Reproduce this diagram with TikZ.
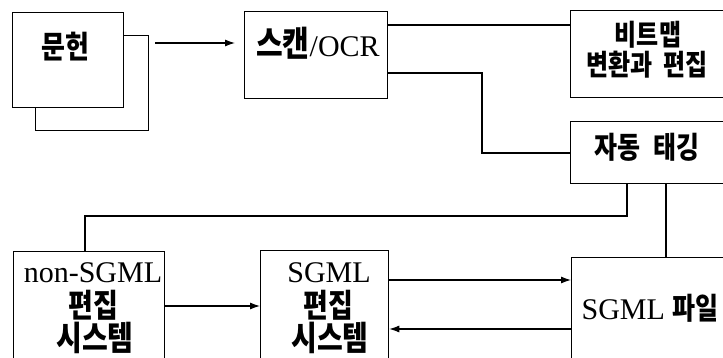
\documentclass[tikz,border=0pt]{standalone}
\usepackage{fontspec}
\usepackage{graphicx}
\setmainfont{Liberation Serif}
\newfontfamily\kr{Noto Sans CJK KR}
\usetikzlibrary{arrows.meta}
\tikzset{
  box/.style={draw, line width=1.3pt, fill=white, inner sep=0pt, rectangle, anchor=north west},
  conn/.style={line width=1.1pt},
  arr/.style={conn, -{Latex[length=10pt,width=7pt]}},
  txt/.style={inner sep=0pt},
  la/.style={font=\fontsize{30}{30}\selectfont, inner sep=0pt},
}
\newcommand{\kor}[2]{\scalebox{1}[1.2]{\kr\bfseries\fontsize{#1}{#1}\selectfont #2}}
\begin{document}
\begin{tikzpicture}[x=1pt,y=-1pt]
\useasboundingbox (0,0) rectangle (723,358);
\clip (0,0) rectangle (723,358);
\fill[white] (0,0) rectangle (723,358);
% boxes
\node[box, minimum width=113pt, minimum height=95pt] (back) at (35,35) {};
\node[box, minimum width=111pt, minimum height=95pt] (munheon) at (12,12) {};
\node[box, minimum width=143pt, minimum height=87pt] (scan) at (244,11) {};
\node[box, minimum width=180pt, minimum height=87pt] (bitmap) at (570,10) {};
\node[box, minimum width=180pt, minimum height=62pt] (autotag) at (570,121) {};
\node[box, minimum width=151pt, minimum height=130pt] (nonsgml) at (13,251) {};
\node[box, minimum width=128pt, minimum height=130pt] (sgmled) at (260,250) {};
\node[box, minimum width=180pt, minimum height=130pt] (sgmlfile) at (571,257) {};
% texts
\node[txt] (t1) at (65,47) {\kor{26}{문헌}};
\node[la] (t2) at (318,43) {\kor{29}{스캔}/OCR};
\node[txt] (t3) at (648,35) {\kor{24}{비트맵}};
\node[txt] (t4) at (647,65) {\kor{24}{변환과\hspace{0.45em}편집}};
\node[txt] (t5) at (647,147) {\kor{25}{자동\hspace{0.5em}태깅}};
\node[la] (t6) at (93,273) {non-SGML};
\node[txt] (t7) at (93,305) {\kor{27}{편집}};
\node[txt] (t8) at (95,338) {\kor{28}{시스템}};
\node[la] (t9) at (329,273) {SGML};
\node[txt] (t10) at (328,305) {\kor{27}{편집}};
\node[txt] (t11) at (330,338) {\kor{28}{시스템}};
\node[la] (t12) at (650,308) {SGML \kor{25}{파일}};
% helper coordinates
\coordinate (a0) at (155,43);
\coordinate (r25) at (400,25);
\coordinate (r73) at (482,73);
\coordinate (r153) at (482,153);
\coordinate (k1) at (627,216);
\coordinate (k2) at (85,216);
\coordinate (k3) at (666,200);
\coordinate (h1) at (0,306);
\coordinate (h2) at (0,280);
\coordinate (h3) at (0,329);
% connectors
\draw[arr, shorten >=9pt] (a0) -- (a0 -| scan.west);
\draw[conn] (scan.east |- r25) -- (r25 -| bitmap.west);
\draw[conn] (scan.east |- r73) -- (r73) -- (r153) -- (r153 -| autotag.west);
\draw[conn] (k1 |- autotag.south) -- (k1) -- (k2) -- (k2 |- nonsgml.north);
\draw[conn] (k3 |- autotag.south) -- (k3 |- sgmlfile.north);
\draw[arr] (nonsgml.east |- h1) -- (sgmled.west |- h1);
\draw[arr] (sgmled.east |- h2) -- (sgmlfile.west |- h2);
\draw[arr] (sgmlfile.west |- h3) -- (sgmled.east |- h3);
\end{tikzpicture}
\end{document}
